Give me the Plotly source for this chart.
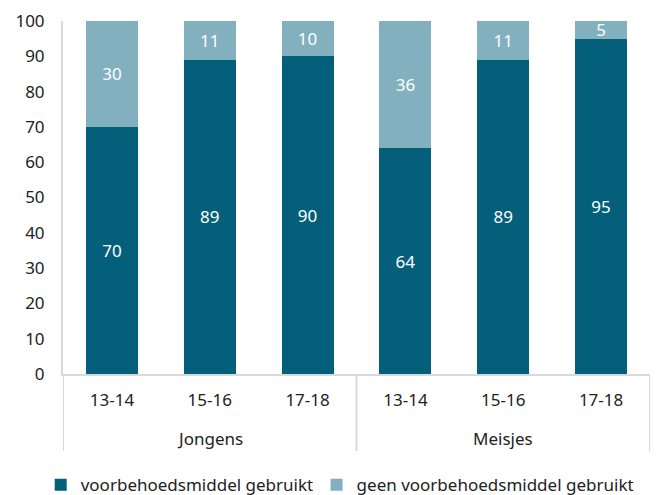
import plotly.graph_objects as go

groups = ["Jongens", "Jongens", "Jongens", "Meisjes", "Meisjes", "Meisjes"]
ages = ["13-14", "15-16", "17-18", "13-14", "15-16", "17-18"]
used = [70, 89, 90, 64, 89, 95]
not_used = [30, 11, 10, 36, 11, 5]

DARK = "#045F7A"
LIGHT = "#82B0BF"
GRID = "#D9D9D9"
FONT = "Noto Sans, sans-serif"
FS = 17

cats = [g + " " + a for g, a in zip(groups, ages)]

fig = go.Figure()
fig.add_trace(go.Bar(
    x=cats, y=used, name="voorbehoedsmiddel gebruikt", legend="legend",
    marker=dict(color=DARK, line=dict(width=0)),
    text=used, textposition="inside", insidetextanchor="middle", textangle=0,
    textfont=dict(color="white", size=FS), hoverinfo="skip",
))
fig.add_trace(go.Bar(
    x=cats, y=not_used, name="geen voorbehoedsmiddel gebruikt", legend="legend2",
    marker=dict(color=LIGHT, line=dict(width=0)),
    text=not_used, textposition="inside", insidetextanchor="middle", textangle=0,
    textfont=dict(color="white", size=FS), hoverinfo="skip",
))

# group labels and dividers under the category axis
plot_h = 353
group_names = list(dict.fromkeys(groups))
for g in group_names:
    idx = [i for i, x in enumerate(groups) if x == g]
    mid = cats[idx[len(idx) // 2]]
    fig.add_annotation(x=mid, xref="x", y=-64 / plot_h, yref="paper",
                       text=g, showarrow=False, yanchor="middle",
                       font=dict(size=FS, color="#222222"))
bounds = [-0.5] + [i + 0.5 for i in range(len(groups) - 1)
                   if groups[i] != groups[i + 1]] + [len(groups) - 0.5]
for b in bounds:
    fig.add_shape(type="line", xref="x", yref="paper", x0=b, x1=b,
                  y0=0, y1=-77 / plot_h, line=dict(color=GRID, width=2))

leg = dict(orientation="h", xanchor="left", yref="container", y=0.036,
           yanchor="middle", font=dict(size=FS), itemwidth=30)
fig.update_layout(
    barmode="stack", bargap=0.47,
    width=660, height=495,
    margin=dict(l=55, r=18, t=13, b=129, autoexpand=False),
    plot_bgcolor="white", paper_bgcolor="white",
    font=dict(family=FONT, size=FS, color="#222222"),
    uniformtext=dict(minsize=FS, mode="show"),
    showlegend=True,
    legend=dict(leg, x=-0.038),
    legend2=dict(leg, x=0.432),
)
fig.update_yaxes(range=[0, 100], dtick=10, showgrid=False, zeroline=False,
                 showline=True, linecolor=GRID, linewidth=2,
                 ticks="", ticklabelstandoff=13)
fig.update_xaxes(showline=True, linecolor=GRID, linewidth=2,
                 tickvals=cats, ticktext=ages, ticks="",
                 ticklabelstandoff=10, range=[-0.5, len(cats) - 0.5])

fig.write_html("out.html")
